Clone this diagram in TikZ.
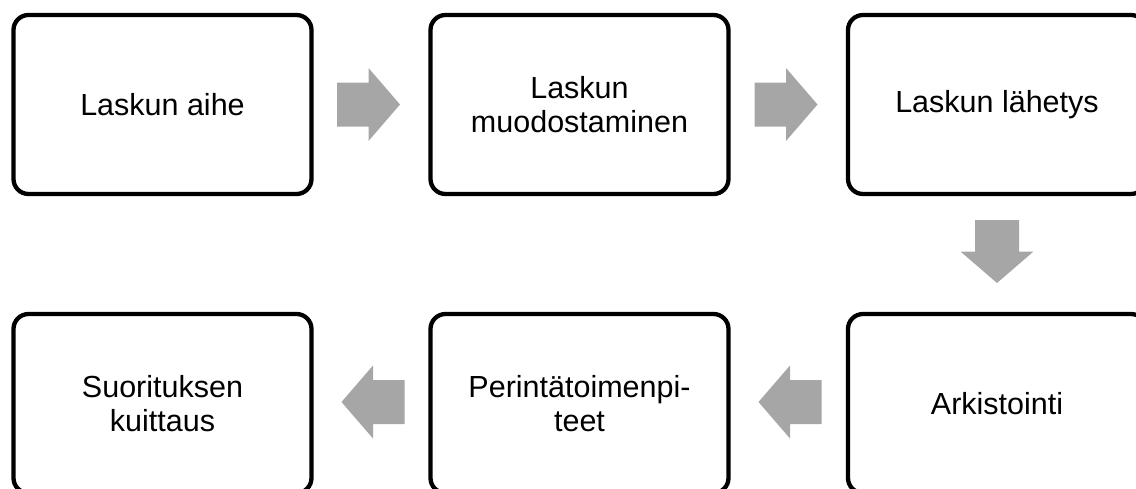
\documentclass[tikz,border=0pt]{standalone}
\usepackage{fontspec}
\setmainfont{Liberation Sans}
\begin{document}
\begin{tikzpicture}[x=1pt,y=-1pt,
  stepbox/.style={draw=black, line width=4.3pt, rounded corners=15pt,
    minimum width=298pt, minimum height=179pt, inner sep=0pt,
    align=center, font=\fontsize{30.5}{34}\selectfont, text=black},
  flowarrow/.style={fill=arrowgray, draw=none}]
\definecolor{arrowgray}{RGB}{166,166,166}
\useasboundingbox (0,0) rectangle (1136,488);

% process steps
\node[stepbox] (aihe)    at (162.5,104.5) {Laskun aihe};
\node[stepbox] (muodos)  at (579.5,104.5) {Laskun\\muodostaminen};
\node[stepbox] (lahetys) at (997,104.5)   {Laskun lähetys};
\node[stepbox] (arkisto) at (997,403.5)   {Arkistointi};
\node[stepbox] (perinta) at (579.5,403.5) {Perintätoimenpi-\\teet};
\node[stepbox] (kuittaus) at (162.5,403.5) {Suorituksen\\kuittaus};

% block arrows between the steps (centre, rotation)
\foreach \cx/\cy/\ang in {368.5/104.5/0, 786/104.5/0, 997/251.5/-90,
                          790/402/180, 373/402/180}{
  \fill[flowarrow, shift={(\cx,\cy)}, rotate=\ang]
    (-31.5,-22) -- (0,-22) -- (0,-36.5) -- (31.5,0) -- (0,36.5) -- (0,22)
    -- (-31.5,22) -- cycle;
}
\end{tikzpicture}
\end{document}
